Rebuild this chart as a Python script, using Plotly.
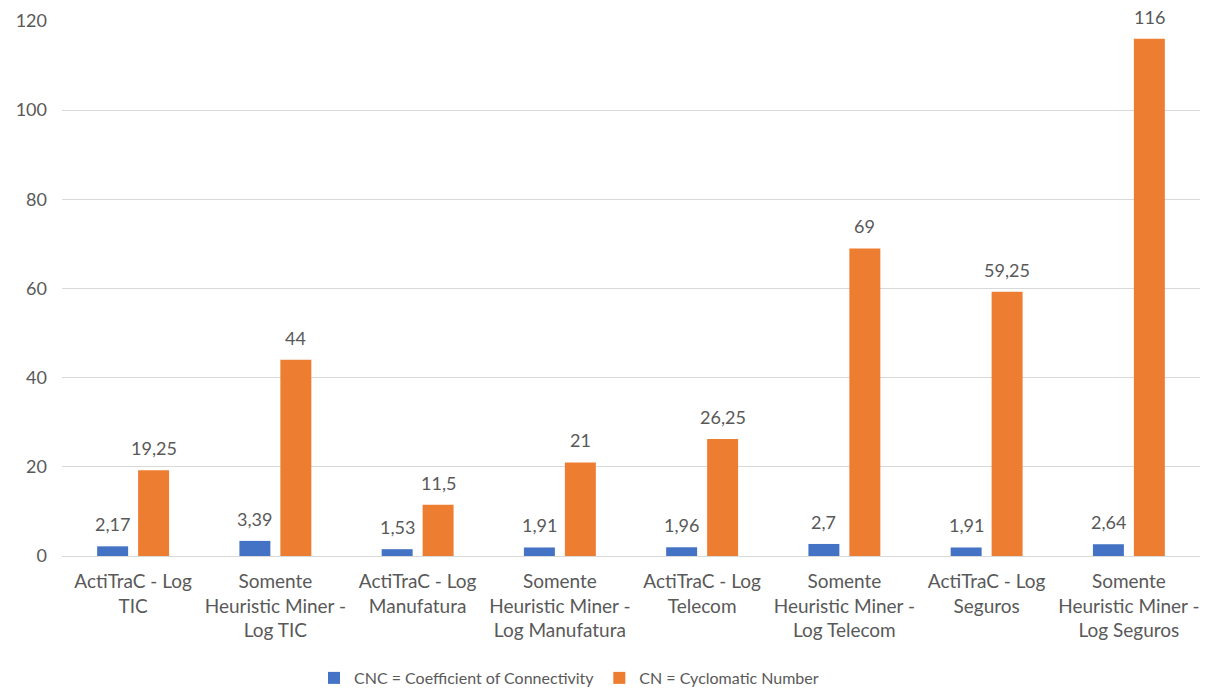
import plotly.graph_objects as go

categories = [
    "ActiTraC - Log<br>TIC",
    "Somente<br>Heuristic Miner -<br>Log TIC",
    "ActiTraC - Log<br>Manufatura",
    "Somente<br>Heuristic Miner -<br>Log Manufatura",
    "ActiTraC - Log<br>Telecom",
    "Somente<br>Heuristic Miner -<br>Log Telecom",
    "ActiTraC - Log<br>Seguros",
    "Somente<br>Heuristic Miner -<br>Log Seguros",
]
cnc_values = [2.17, 3.39, 1.53, 1.91, 1.96, 2.7, 1.91, 2.64]
cn_values = [19.25, 44, 11.5, 21, 26.25, 69, 59.25, 116]
y_ticks = [0, 20, 40, 60, 80, 100, 120]

series_names = ["CNC = Coefficient of Connectivity", "CN = Cyclomatic Number"]
colors = ["#4472C4", "#ED7D31"]
text_color = "#595959"
font_family = "Lato"

x_pos = list(range(len(categories)))


def fmt(v):
    # decimal comma, no trailing zeros
    return ("%g" % v).replace(".", ",")


fig = go.Figure()
for name, vals, col in zip(series_names, [cnc_values, cn_values], colors):
    fig.add_trace(go.Bar(
        x=x_pos, y=vals, name=name,
        marker=dict(color=col, line=dict(width=0)),
    ))

# value labels above each bar
slot = 0.144
for sign, vals in zip([-1, 1], [cnc_values, cn_values]):
    for xi, v in zip(x_pos, vals):
        fig.add_annotation(
            x=xi + sign * slot, y=v, xref="x", yref="y",
            text=fmt(v), showarrow=False, yanchor="bottom", yshift=9,
            font=dict(family=font_family, size=18, color=text_color),
        )

fig.update_layout(
    width=1210, height=689,
    paper_bgcolor="white", plot_bgcolor="white",
    margin=dict(l=62, r=10, t=21, b=133, autoexpand=False),
    barmode="group", bargap=0.424, bargroupgap=0.244,
    font=dict(family=font_family, size=18, color=text_color),
    showlegend=True,
    legend=dict(
        orientation="h", xref="paper", x=0.4455, xanchor="center",
        yref="paper", y=-0.228, yanchor="middle",
        font=dict(family=font_family, size=16, color=text_color),
        itemsizing="constant",
    ),
)
fig.update_xaxes(
    tickmode="array", tickvals=x_pos, ticktext=categories,
    range=[-0.5, len(categories) - 0.5],
    showgrid=False, zeroline=False, showline=False, ticks="",
    tickangle=0, automargin=False, ticklabelstandoff=12,
    tickfont=dict(family=font_family, size=19, color=text_color),
)
fig.update_yaxes(
    range=[0, 120], tickvals=y_ticks,
    showgrid=True, gridcolor="#D9D9D9", gridwidth=1,
    zeroline=True, zerolinecolor="#D9D9D9", zerolinewidth=1,
    showline=False, ticks="", automargin=False, ticklabelstandoff=14,
    tickfont=dict(family=font_family, size=18, color=text_color),
)

fig.write_html("out.html")
